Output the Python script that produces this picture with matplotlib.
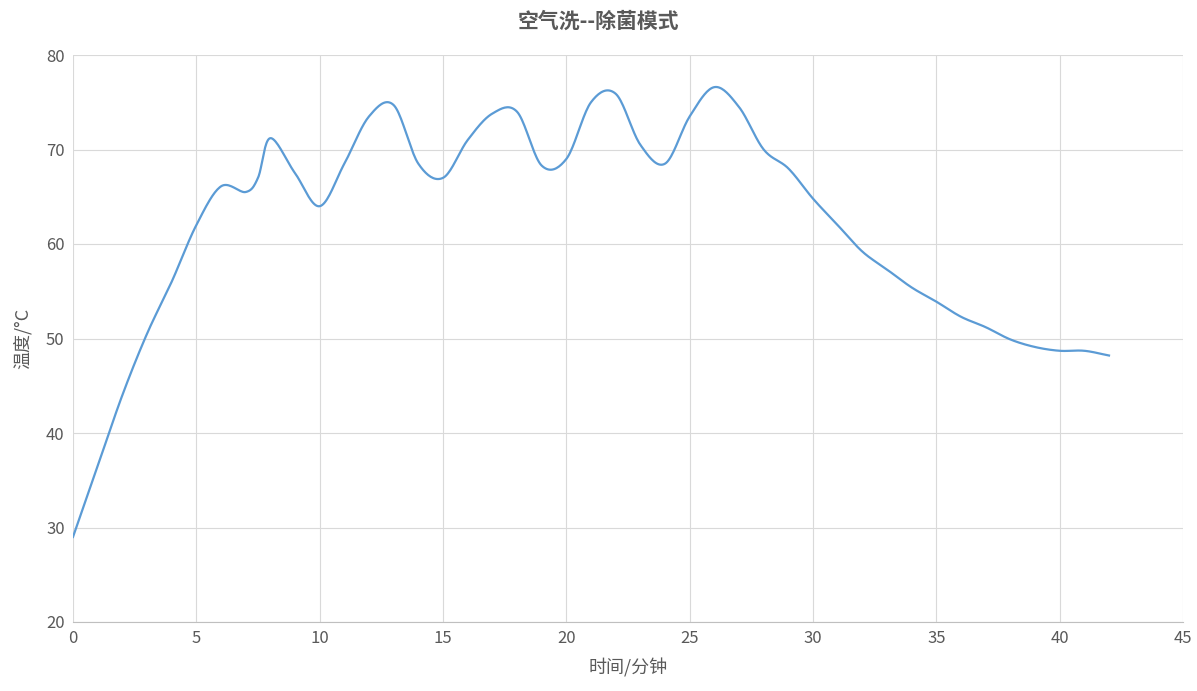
import matplotlib
matplotlib.use("Agg")
import matplotlib.pyplot as plt
import numpy as np

plt.rcParams['font.family'] = ['Noto Sans CJK SC', 'DejaVu Sans']

minutes = [0, 1, 2, 3, 4, 5, 6, 7, 7.5, 8, 9, 10, 11, 12, 13, 14, 15, 16, 17, 18, 19, 20, 21, 22, 23, 24, 25, 26, 27, 28, 29, 30, 31, 32, 33, 34, 35, 36, 37, 38, 39, 40, 41, 42]
temps = [29, 36.5, 44, 50.5, 56, 62, 66.1, 65.5, 67, 71.2, 67.5, 64, 68.5, 73.5, 74.7, 68.5, 67, 71, 73.8, 74, 68.3, 69, 75, 75.9, 70.5, 68.5, 73.5, 76.6, 74.5, 70, 68, 64.8, 62, 59.2, 57.3, 55.4, 53.9, 52.3, 51.2, 49.9, 49.1, 48.7, 48.7, 48.2]


def smooth_line(x, y, n=20):
    # Catmull-Rom rendering of the line (like a spreadsheet "smoothed line")
    x = np.asarray(x, float); y = np.asarray(y, float)
    px = np.concatenate([[2*x[0]-x[1]], x, [2*x[-1]-x[-2]]])
    py = np.concatenate([[2*y[0]-y[1]], y, [2*y[-1]-y[-2]]])
    xs, ys = [], []
    t = np.linspace(0, 1, n, endpoint=False)
    for i in range(1, len(px)-2):
        for P, out in ((px, xs), (py, ys)):
            p0, p1, p2, p3 = P[i-1], P[i], P[i+1], P[i+2]
            out.extend(0.5*((2*p1) + (-p0+p2)*t + (2*p0-5*p1+4*p2-p3)*t**2 + (-p0+3*p1-3*p2+p3)*t**3))
    xs.append(x[-1]); ys.append(y[-1])
    return xs, ys


fig = plt.figure(figsize=(11.97, 6.91), dpi=100)
ax = fig.add_axes([73/1197, 1-622/691, (1183-73)/1197, (622-55)/691])
sx, sy = smooth_line(minutes, temps)
ax.plot(sx, sy, color='#5B9BD5', lw=1.6)
ax.set_xlim(0, 45)
ax.set_ylim(20, 80)
ax.set_xticks(range(0, 46, 5))
ax.set_yticks(range(20, 81, 10))
ax.grid(True, color='#d9d9d9', lw=0.8)
ax.set_axisbelow(True)
for s in ['top', 'right', 'left']:
    ax.spines[s].set_visible(False)
ax.spines['bottom'].set_color('#bfbfbf')
ax.tick_params(length=0, labelsize=12, colors='#595959', pad=6)
ax.set_xlabel('时间/分钟', fontsize=13, color='#595959', labelpad=8)
ax.set_ylabel('温度/°C', fontsize=13, color='#595959', labelpad=10)
fig.suptitle('空气洗--除菌模式', fontsize=15, fontweight='bold', color='#595959', y=0.985)
fig.savefig('out.png', dpi=100)
